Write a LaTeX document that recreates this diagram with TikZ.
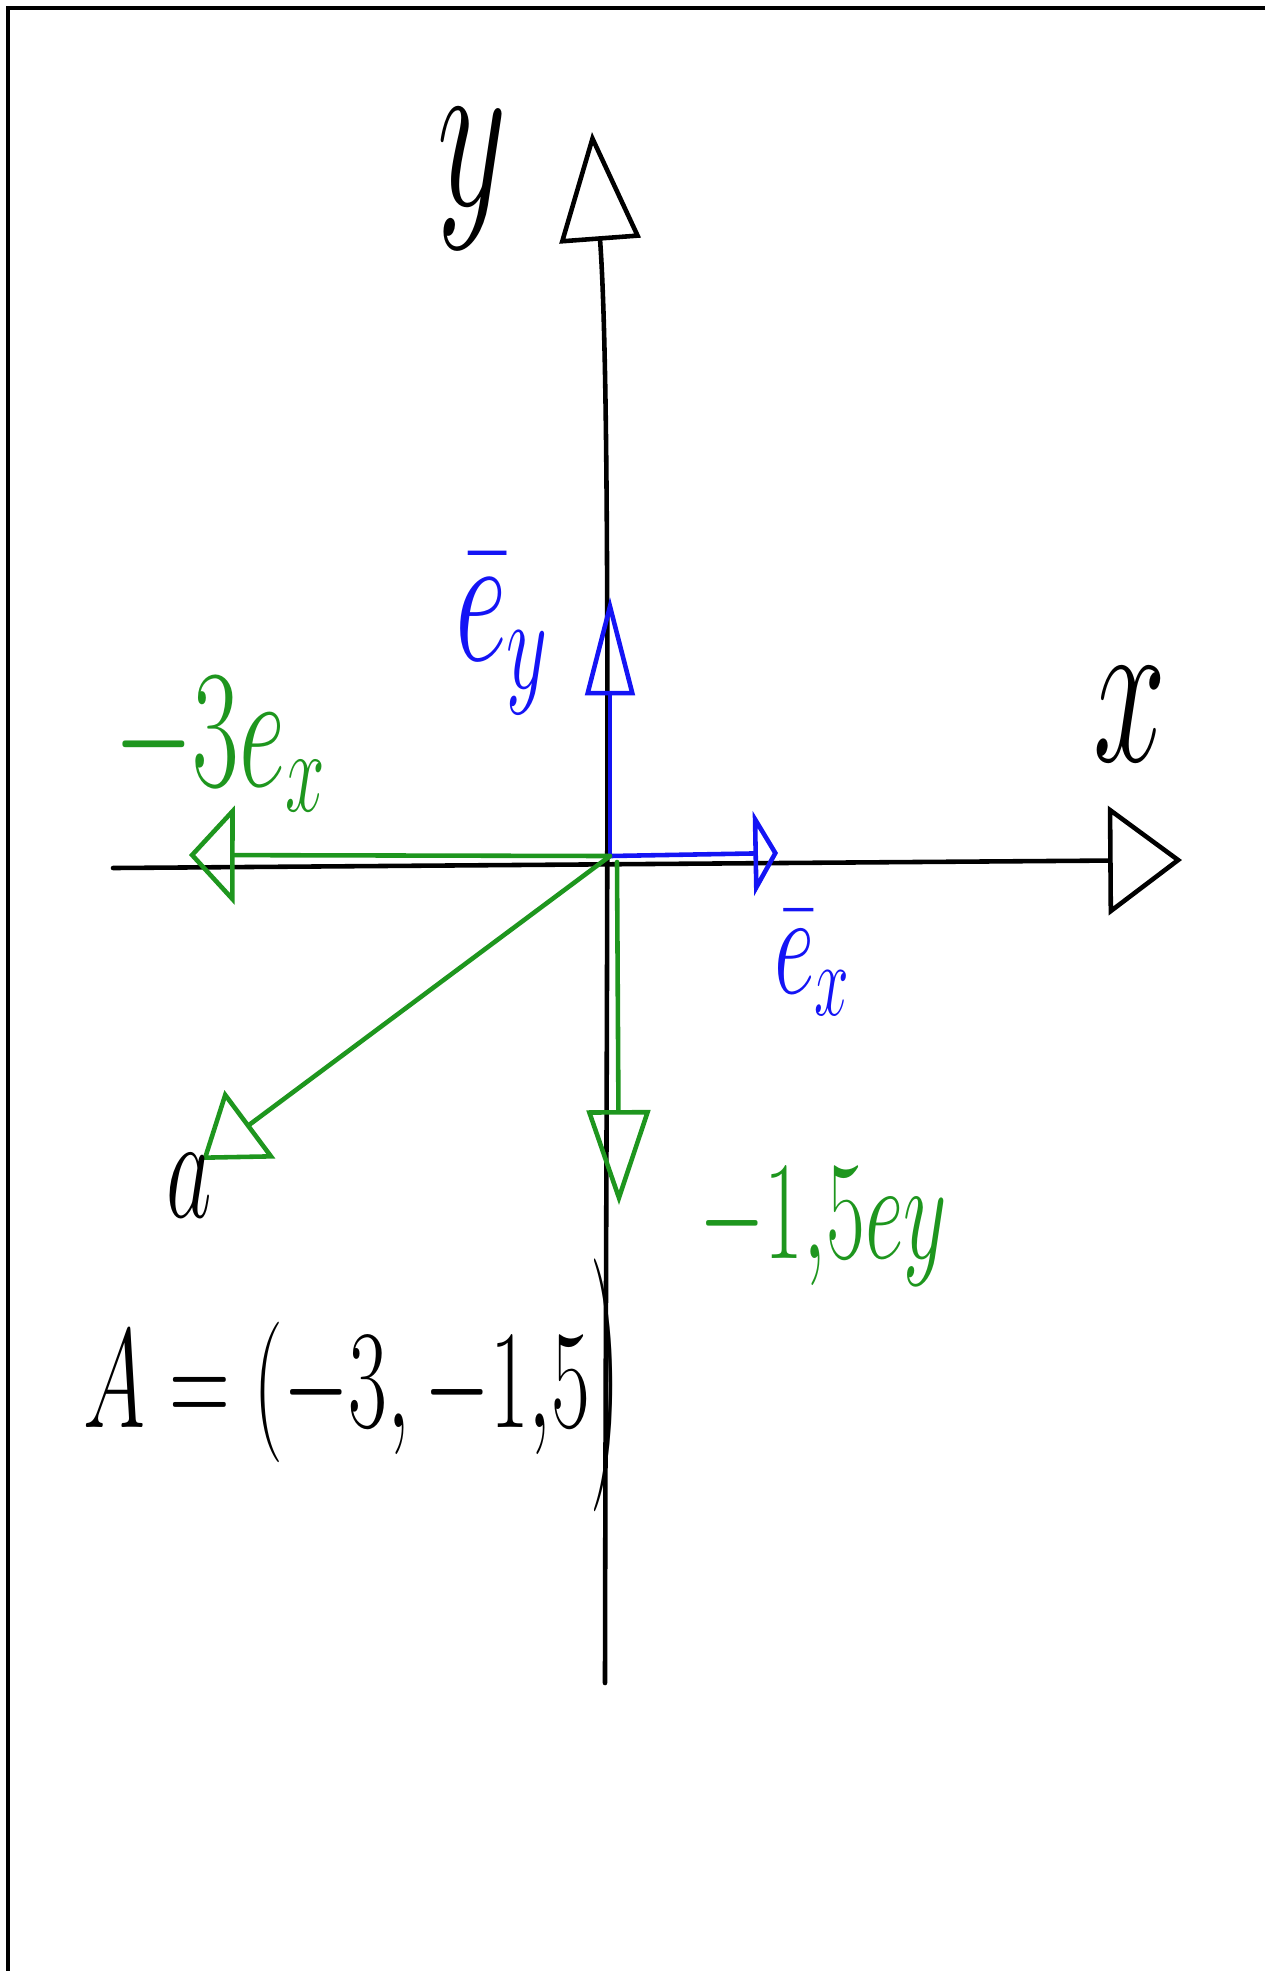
\documentclass[tikz,border=0pt]{standalone}
\usepackage{fix-cm}
\usepackage{graphicx}
\usetikzlibrary{arrows.meta}
\definecolor{penblue}{RGB}{20,20,245}
\definecolor{pengreen}{RGB}{30,150,30}
\newcommand{\handfont}[1]{\fontsize{#1}{#1}\selectfont}
\newcommand{\hand}[1]{\scalebox{0.6}[1]{#1}}
\newcommand{\bigclose}{\raisebox{-0.15em}{\scalebox{1}[1.8]{$)$}}}

\begin{document}
\begin{tikzpicture}[
    x=0.01cm, y=-0.01cm,
    axis/.style={draw=black, line width=1.3pt, line cap=round},
    vec/.style={line width=1.3pt, line cap=round, line join=round},
    vhead/.style 2 args={-{Triangle[open, length=#1, width=#2]}},
    tag/.style={inner sep=0pt, anchor=base}
]
\useasboundingbox (0,0) rectangle (1265,1971);

% Frame
\draw[line width=0.9pt] (1265,8) -- (8,8) -- (8,1971);

% Axes
\coordinate (ybot) at (605,1683);
\coordinate (ytop) at (592,132);
\coordinate (xleft) at (113,868);
\coordinate (xright) at (1182,860);
\draw[axis, vhead={31pt}{23pt}] (ybot) .. controls (606,1000) and (612,400) .. (ytop);
\draw[axis, vhead={21pt}{31pt}] (xleft) -- (xright);

% Basis vectors
\coordinate (O) at (610,856);
\coordinate (ey) at (610,597);
\coordinate (ex) at (778,853);
\draw[vec, penblue, vhead={28pt}{14pt}] (O) -- (ey);
\draw[vec, penblue, vhead={7pt}{24pt}] (O) -- (ex);

% Scaled vectors
\coordinate (Od) at (617,862);
\coordinate (mex) at (189,855);
\coordinate (mey) at (619,1205);
\coordinate (a) at (202,1160);
\draw[vec, pengreen, vhead={13pt}{28pt}] (O) -- (mex);
\draw[vec, pengreen, vhead={27pt}{18pt}] (Od) -- (mey);
\draw[vec, pengreen, vhead={17pt}{24pt}] (O) -- (a);

% Labels
\node[tag, font=\handfont{64}] (ylab) at (472,205) {\hand{$y$}};
\node[tag, font=\handfont{62}] (xlab) at (1130,761) {\hand{$x$}};
\node[tag, font=\handfont{54}, text=penblue] (eylab) at (502,660) {\hand{$\bar{e}_y$}};
\node[tag, font=\handfont{42}, text=penblue] (exlab) at (812,993) {\hand{$\bar{e}_x$}};
\node[tag, font=\handfont{48}, text=pengreen] (mexlab) at (220,786) {\hand{$-3e_x$}};
\node[tag, font=\handfont{40}, text=pengreen] (meylab) at (823,1258) {\hand{$-1{,}5ey$}};
\node[tag, font=\handfont{42}] (alab) at (189,1217) {\hand{$a$}};
\node[tag, font=\handfont{40}] (Alab) at (352,1427) {\hand{$A=(-3,-1{,}5$\bigclose}};

\end{tikzpicture}
\end{document}
